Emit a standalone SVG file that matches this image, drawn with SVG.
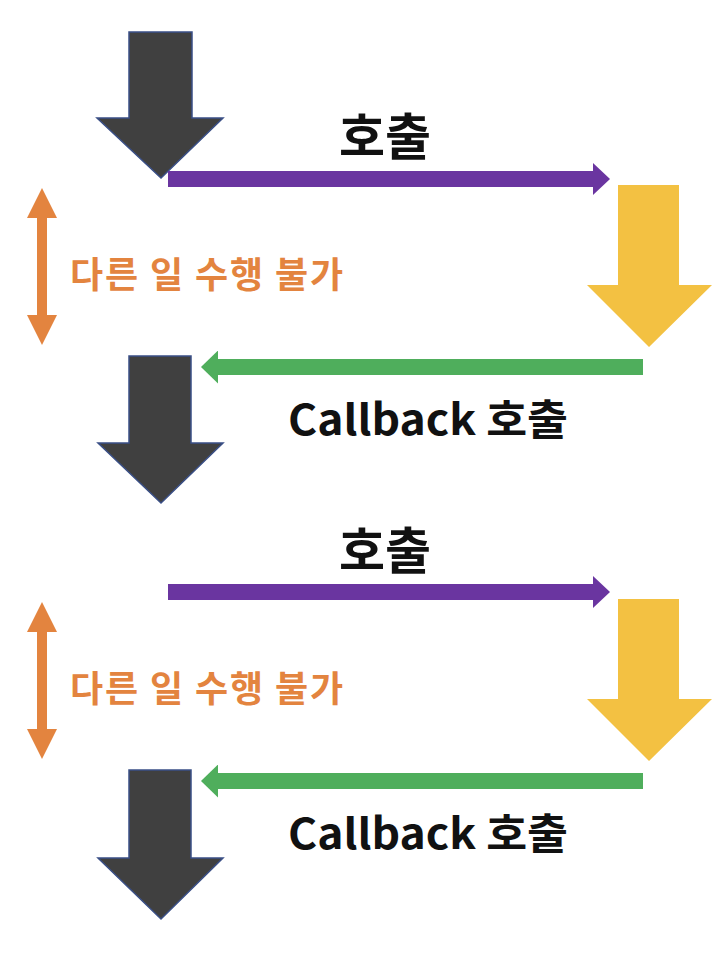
<svg xmlns="http://www.w3.org/2000/svg" width="726" height="954" viewBox="0 0 726 954">
<style>
.dark{fill:#404040;stroke:#3A4F86;stroke-width:1.5;stroke-linejoin:miter}
.yellow{fill:#F3C142}
.lbl{font-family:"Noto Sans CJK KR","Noto Sans",sans-serif;font-weight:700;fill:#111}
.warn{font-family:"Noto Sans CJK KR","Noto Sans",sans-serif;font-weight:700;fill:#E3843F;font-size:36px}
.call{stroke:#6A35A0;stroke-width:16;fill:none}
.back{stroke:#4FAE5C;stroke-width:16;fill:none}
.block{stroke:#E3843F;stroke-width:10;fill:none}
</style>
<defs>
<marker id="mPurple" viewBox="0 0 17 32" refX="0" refY="16" markerWidth="17" markerHeight="32" markerUnits="userSpaceOnUse" orient="auto"><path d="M0,0 L17,16 L0,32 Z" fill="#6A35A0"/></marker>
<marker id="mGreen" viewBox="0 0 17 33" refX="0" refY="16.5" markerWidth="17" markerHeight="33" markerUnits="userSpaceOnUse" orient="auto"><path d="M0,0 L17,16.5 L0,33 Z" fill="#4FAE5C"/></marker>
<marker id="mOrange" viewBox="0 0 30 31" refX="0" refY="15" markerWidth="30" markerHeight="31" markerUnits="userSpaceOnUse" orient="auto-start-reverse"><path d="M0,0 L30,15 L0,30 Z" fill="#E3843F"/></marker>
</defs>

<g id="caller1"><polygon class="dark" points="129,32 192,32 192,118 223,118 161,178 97,118 129,118"/></g>
<g id="callee1"><polygon class="yellow" points="618,185 679,185 679,285 712,285 649,347 587,285 618,285"/></g>
<g id="caller2"><polygon class="dark" points="129,356 191,356 191,443 223,443 161,503 98,443 129,443"/></g>
<g id="callee2"><polygon class="yellow" points="618,599 679,599 679,699 712,699 649,761 587,699 618,699"/></g>
<g id="caller3"><polygon class="dark" points="129,770 191,770 191,858 223,858 161,919 98,858 129,858"/></g>

<g id="connectors">
<line class="call" x1="168" y1="179" x2="593" y2="179" marker-end="url(#mPurple)"/>
<line class="back" x1="643" y1="367" x2="218" y2="367" marker-end="url(#mGreen)"/>
<line class="call" x1="168" y1="592" x2="593" y2="592" marker-end="url(#mPurple)"/>
<line class="back" x1="643" y1="781" x2="218" y2="781" marker-end="url(#mGreen)"/>
<line class="block" x1="42" y1="218" x2="42" y2="315" marker-start="url(#mOrange)" marker-end="url(#mOrange)"/>
<line class="block" x1="42" y1="632" x2="42" y2="729" marker-start="url(#mOrange)" marker-end="url(#mOrange)"/>
</g>

<g id="labels">
<text class="lbl" x="385" y="155" font-size="50" text-anchor="middle">호출</text>
<text class="lbl" x="385" y="569" font-size="50" text-anchor="middle">호출</text>
<text class="lbl" x="288" y="435" font-size="42" textLength="280" lengthAdjust="spacingAndGlyphs">Callback 호출</text>
<text class="lbl" x="288" y="849" font-size="42" textLength="280" lengthAdjust="spacingAndGlyphs">Callback 호출</text>
<text class="warn" x="70" y="288" textLength="273">다른 일 수행 불가</text>
<text class="warn" x="70" y="702" textLength="273">다른 일 수행 불가</text>
</g>
</svg>
